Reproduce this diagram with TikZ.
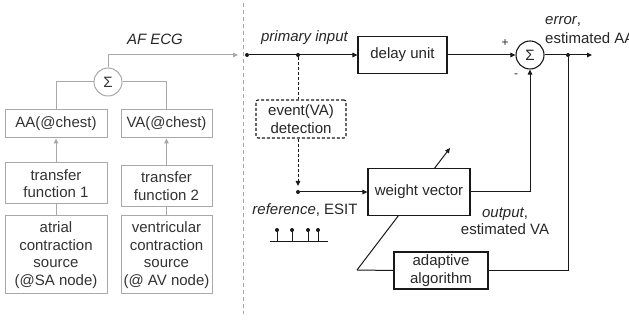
\documentclass[tikz,border=0pt]{standalone}
\usepackage{fontspec}
\setmainfont{Liberation Sans}
\usetikzlibrary{arrows.meta}
\definecolor{lgray}{HTML}{A8A8A8}
\definecolor{tgray}{HTML}{333333}
\tikzset{
  fnt/.style={font=\fontsize{15}{17.5}\selectfont},
  gbox/.style={draw=lgray, line width=1pt, fill=white, fnt, text=tgray, align=center, inner sep=0pt},
  bbox/.style={draw=black!90, line width=1.1pt, fill=white, fnt, text=black!85, align=center, inner sep=0pt},
  gline/.style={draw=lgray, line width=1pt},
  bline/.style={draw=black!90, line width=1pt},
  dsh/.style={dash pattern=on 3pt off 2pt},
  tip/.style={-{Triangle[length=5pt,width=4.5pt]}},
  lbl/.style={fnt, text=black!85, inner sep=0pt},
  dotc/.style={circle, fill=black!90, inner sep=0pt, minimum size=4pt},
}
\begin{document}
\begin{tikzpicture}[x=1pt,y=-1pt]
\useasboundingbox (0,0) rectangle (629,320);
% separator
\draw[lgray, line width=0.8pt, dash pattern=on 4pt off 3pt] (243,3) -- (243,314);

% ---------- left part ----------
\node[gbox, minimum width=102pt, minimum height=28pt] (AA) at (56,124) {AA(@chest)};
\node[gbox, minimum width=91pt, minimum height=28pt] (VA) at (166.5,124) {VA(@chest)};
\node[gbox, minimum width=102pt, minimum height=41pt] (tf1) at (56,183.5) {transfer\\function 1};
\node[gbox, minimum width=91pt, minimum height=41pt] (tf2) at (166.5,186) {transfer\\function 2};
\node[gbox, minimum width=102pt, minimum height=78pt] (src1) at (56,255) {atrial\\contraction\\source\\(@SA node)};
\node[gbox, minimum width=91pt, minimum height=78pt] (src2) at (166.5,255) {ventricular\\contraction\\source\\(@ AV node)};
\node[gbox, circle, minimum size=28pt] (sL) at (108,82) {Σ};
\coordinate (ecgEnd) at (238,55);
\node[lbl, font=\fontsize{15}{17.5}\selectfont\itshape] (afecg) at (155,39) {AF ECG};

\draw[gline] (sL.west) -| (AA.north);
\draw[gline] (sL.east) -| (VA.north);
\draw[gline, -{Triangle[length=5pt,width=4.5pt]}] (sL.north) |- (ecgEnd);
\draw[gline, -{Triangle[length=5pt,width=4.5pt]}] (tf1.north) -- (AA.south);
\draw[gline, -{Triangle[length=5pt,width=4.5pt]}] (tf2.north) -- (VA.south);
\draw[gline] (src1.north) -- (tf1.south);
\draw[gline] (src2.north) -- (tf2.south);

% ---------- right part ----------
\coordinate (corner) at (357,270);
\coordinate (slTip) at (450,148);
\draw[bline, tip] (corner) -- (slTip);

\node[dotc] (inL) at (247,55) {};
\node[dotc] (j1) at (298,55) {};
\node[dotc] (j2) at (298,192) {};
\node[dotc] (j3) at (568,55) {};
\coordinate (outEnd) at (592,55);

\node[bbox, minimum width=89pt, minimum height=37pt] (dl) at (402.5,55) {delay unit};
\node[bbox, dsh, rounded corners=2pt, minimum width=90pt, minimum height=38pt] (ev) at (301,119) {event(VA)\\detection};
\node[bbox, minimum width=102pt, minimum height=47pt] (wv) at (419,192) {weight vector};
\node[bbox, minimum width=94pt, minimum height=37pt] (ad) at (441,270.5) {adaptive\\algorithm};
\node[bbox, circle, minimum size=28pt] (sR) at (530,55) {Σ};

\draw[bline, tip] (inL) -- (dl.west);
\draw[bline, dsh] (j1) -- (j1 |- ev.north);
\draw[bline, dsh, tip] (j1 |- ev.south) -- ([yshift=6pt]j2.center);
\draw[bline, tip] (j2) -- (wv.west);
\draw[bline, tip] (dl.east) -- (sR.west);
\draw[bline, tip] (wv.east) -| (sR.south);
\draw[bline, tip] (sR.east) -- (outEnd);
\draw[bline] (j3) |- (ad.east);
\draw[bline] (ad.west) -- (corner);

% labels
\node[lbl, font=\fontsize{15}{17.5}\selectfont\itshape] (pin) at (304.5,38) {primary input};
\node[lbl, font=\fontsize{12}{14}\selectfont] (plus) at (505,43) {+};
\node[lbl, font=\fontsize{12}{14}\selectfont] (minus) at (516,76) {-};
\node[lbl, anchor=west] (err1) at (545,21) {\itshape error\upshape,};
\node[lbl, anchor=west] (err2) at (545,38) {estimated AA};
\node[lbl, align=center] (outp) at (505,221) {\itshape output\upshape,\\estimated VA};
\node[lbl] (refl) at (305,210) {\itshape reference\upshape, ESIT};

% stem plot
\coordinate (bs0) at (270,241);
\coordinate (bs1) at (328,241);
\draw[bline, line width=0.8pt] (bs0) -- (bs1);
\foreach \sx [count=\i] in {277,292,308,318}{
  \node[dotc] (st\i) at (\sx,230) {};
  \draw[bline, line width=0.8pt] (st\i.center) -- (st\i.center |- bs0);
}
\end{tikzpicture}
\end{document}
